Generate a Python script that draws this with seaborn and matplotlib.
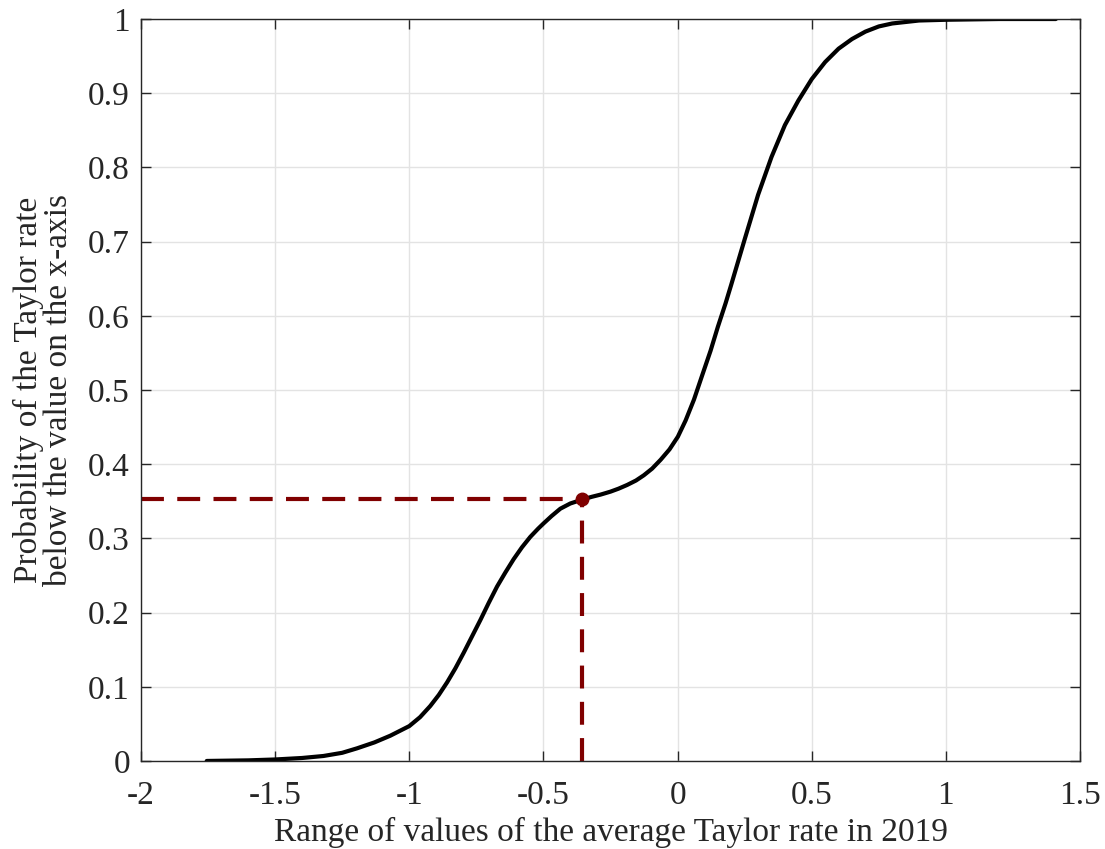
import numpy as np
import pandas as pd
import matplotlib
matplotlib.use("Agg")
import matplotlib.pyplot as plt
import seaborn as sns

# points
x_vals = [-1.755, -1.6, -1.5, -1.4, -1.32, -1.25, -1.195, -1.13, -1.071, -1.0,
          -0.96, -0.922, -0.89, -0.859, -0.828, -0.797, -0.766, -0.735, -0.704,
          -0.673, -0.642, -0.611, -0.58, -0.549, -0.52, -0.5, -0.47, -0.437,
          -0.4, -0.358, -0.32, -0.287, -0.25, -0.22, -0.188, -0.155, -0.126,
          -0.095, -0.063, -0.03, 0.001, 0.03, 0.061, 0.09, 0.123, 0.15, 0.179,
          0.2, 0.25, 0.3, 0.35, 0.4, 0.45, 0.5, 0.55, 0.6, 0.65, 0.7, 0.75,
          0.8, 0.85, 0.9, 1.0, 1.2, 1.41]
y_vals = [0.0, 0.0008, 0.002, 0.004, 0.0067, 0.011, 0.017, 0.025, 0.034, 0.047,
          0.059, 0.074, 0.089, 0.106, 0.125, 0.146, 0.168, 0.190, 0.213,
          0.235, 0.254, 0.272, 0.288, 0.302, 0.313, 0.320, 0.330, 0.340,
          0.347, 0.352, 0.356, 0.359, 0.363, 0.367, 0.372, 0.378, 0.385,
          0.394, 0.406, 0.42, 0.437, 0.459, 0.487, 0.518, 0.553, 0.585, 0.617,
          0.642, 0.703, 0.763, 0.814, 0.857, 0.890, 0.919, 0.942, 0.960, 0.973,
          0.983, 0.990, 0.994, 0.996, 0.998, 0.999, 1.0, 1.0]

point_x = -0.357
point_y = 0.353

x_ticks = [-2, -1.5, -1, -0.5, 0, 0.5, 1, 1.5]
x_labels = ['-2', '-1.5', '-1', '-0.5', '0', '0.5', '1', '1.5']
y_ticks = [0, 0.1, 0.2, 0.3, 0.4, 0.5, 0.6, 0.7, 0.8, 0.9, 1]
y_labels = ['0', '0.1', '0.2', '0.3', '0.4', '0.5', '0.6', '0.7', '0.8', '0.9', '1']

sns.set_style("ticks")
plt.rcParams['font.family'] = ['Liberation Serif', 'DejaVu Serif']

df = pd.DataFrame({'x': x_vals, 'y': y_vals})

fig = plt.figure(figsize=(11.05, 8.49), dpi=100)
ax = fig.add_axes([0.1276, 0.1037, 0.8498, 0.8739])

ax.grid(True, color='#e3e3e3', linewidth=1)
ax.set_axisbelow(True)

sns.lineplot(data=df, x='x', y='y', color='black', linewidth=3, ax=ax)

dark_red = '#800000'
ax.plot([-2, point_x], [point_y, point_y], color=dark_red, linewidth=3,
        linestyle=(0, (5.5, 3.2)))
ax.plot([point_x, point_x], [0, point_y], color=dark_red, linewidth=3,
        linestyle=(0, (5.5, 3.2)))
ax.plot([point_x], [point_y], 'o', color=dark_red, markersize=9)

ax.set_xlim(-2, 1.5)
ax.set_ylim(0, 1)
ax.set_xticks(x_ticks)
ax.set_xticklabels(x_labels)
ax.set_yticks(y_ticks)
ax.set_yticklabels(y_labels)
ax.tick_params(direction='in', top=True, right=True, length=7, width=1,
               labelsize=24, colors='#262626', pad=8)
ax.tick_params(axis='x', pad=14)
for s in ax.spines.values():
    s.set_color('#262626')
    s.set_linewidth(1)

ax.set_xlabel('Range of values of the average Taylor rate in 2019', fontsize=24,
              color='#262626', labelpad=4)
ax.set_ylabel('Probability of the Taylor rate\nbelow the value on the x-axis',
              fontsize=24, color='#262626', labelpad=10, linespacing=1.0)

fig.savefig('out.png', dpi=100)
